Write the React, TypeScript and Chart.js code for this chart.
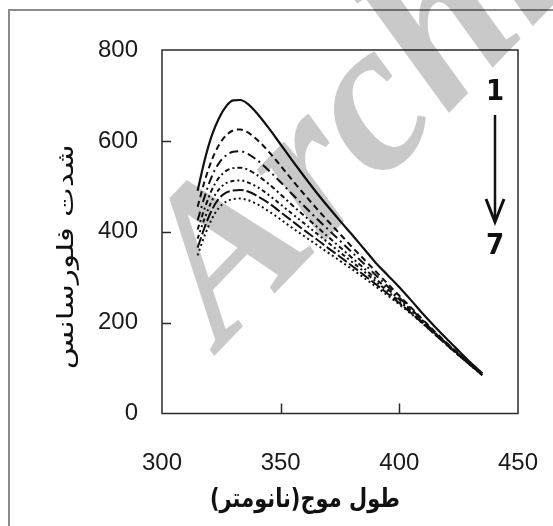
import React, { useEffect, useRef } from "react";
import { Chart, registerables } from "chart.js";

Chart.register(...registerables);

// ---- data ----
const wavelengths = [315, 318, 321, 324, 327, 330, 333, 336, 340, 345, 350, 355, 360, 365, 370, 375, 380, 385, 390, 395, 400, 405, 410, 415, 420, 425, 430, 435];

const curve1 = [490, 558, 612, 650, 676, 689, 690, 682, 661, 628, 592, 556, 521, 487, 455, 424, 394, 363, 332, 305, 278, 249, 219, 191, 164, 138, 112, 88];
const curve2 = [455, 512, 558, 591, 612, 623, 625, 619, 603, 576, 545, 513, 482, 452, 423, 395, 367, 340, 313, 286, 259, 233, 206, 180, 155, 132, 109, 87];
const curve3 = [425, 478, 522, 551, 568, 576, 577, 572, 558, 535, 509, 482, 456, 430, 405, 380, 355, 330, 305, 280, 255, 230, 204, 178, 154, 131, 108, 86];
const curve4 = [405, 452, 492, 519, 534, 540, 541, 537, 525, 505, 482, 458, 435, 412, 389, 366, 343, 320, 297, 274, 251, 227, 202, 177, 153, 130, 107, 85];
const curve5 = [385, 430, 468, 493, 507, 512, 513, 509, 499, 481, 460, 439, 418, 397, 376, 355, 334, 313, 291, 269, 247, 224, 200, 176, 152, 129, 107, 85];
const curve6 = [365, 410, 448, 473, 486, 491, 492, 489, 479, 463, 443, 423, 403, 384, 364, 345, 325, 305, 285, 264, 243, 221, 198, 174, 151, 128, 106, 84];
const curve7 = [348, 392, 428, 453, 466, 472, 473, 470, 461, 445, 427, 408, 390, 372, 354, 336, 318, 299, 280, 260, 240, 219, 197, 174, 151, 128, 106, 84];

const seriesNames = ["1", "2", "3", "4", "5", "6", "7"];
const seriesValues = [curve1, curve2, curve3, curve4, curve5, curve6, curve7];

const xMin = 300;
const xMax = 450;
const xStep = 50;
const yMin = 0;
const yMax = 800;
const yStep = 200;
const xInnerTicks = [350, 400];
const yInnerTicks = [200, 400, 600];

const xTitle = "طول موج(نانومتر)";
const yTitle = "شدت فلورسانس";
const arrowTopLabel = "1";
const arrowBottomLabel = "7";
const watermarkText = "Archive of SID";

// ---- styles ----
const dashStyles: number[][] = [
  [],
  [6, 4],
  [9, 4, 2, 4],
  [5, 3, 2, 3],
  [4, 3, 2, 3, 2, 3],
  [11, 3],
  [2, 3],
];

const decorPlugin = {
  id: "decor",
  beforeDraw(chart: any) {
    const { ctx, width, height } = chart;
    ctx.save();
    ctx.fillStyle = "#ffffff";
    ctx.fillRect(0, 0, width, height);
    ctx.strokeStyle = "#8a8a8a";
    ctx.lineWidth = 2;
    ctx.beginPath();
    ctx.moveTo(9, height);
    ctx.lineTo(9, 10);
    ctx.lineTo(width, 10);
    ctx.stroke();
    ctx.restore();
  },
  afterDatasetsDraw(chart: any) {
    const { ctx, chartArea: a } = chart;
    const xs = chart.scales.x;
    const ys = chart.scales.y;
    ctx.save();

    // plot frame
    ctx.strokeStyle = "#2a2a2a";
    ctx.lineWidth = 1.5;
    ctx.strokeRect(a.left, a.top, a.right - a.left, a.bottom - a.top);

    // inner tick marks
    ctx.beginPath();
    for (const v of xInnerTicks) {
      const px = Math.round(xs.getPixelForValue(v)) + 0.5;
      ctx.moveTo(px, a.bottom);
      ctx.lineTo(px, a.bottom - 10);
    }
    for (const v of yInnerTicks) {
      const py = Math.round(ys.getPixelForValue(v)) + 0.5;
      ctx.moveTo(a.left, py);
      ctx.lineTo(a.left + 9, py);
    }
    ctx.stroke();

    // watermark
    ctx.save();
    ctx.translate(222, 348);
    ctx.rotate((-46 * Math.PI) / 180);
    ctx.font = 'bold italic 215px "Liberation Serif", serif';
    ctx.fillStyle = "rgba(0,0,0,0.21)";
    ctx.textBaseline = "alphabetic";
    ctx.textAlign = "left";
    ctx.fillText(watermarkText, 0, 0);
    ctx.restore();

    // arrow annotation 1 -> 7
    const ax = a.right - 23;
    ctx.fillStyle = "#111";
    ctx.font = 'bold 29px "DejaVu Sans Condensed", "DejaVu Sans", sans-serif';
    ctx.textAlign = "center";
    ctx.textBaseline = "middle";
    ctx.fillText(arrowTopLabel, ax, 92);
    ctx.fillText(arrowBottomLabel, ax, 246);
    ctx.strokeStyle = "#111";
    ctx.lineWidth = 2.5;
    ctx.beginPath();
    ctx.moveTo(ax, 115);
    ctx.lineTo(ax, 221);
    ctx.stroke();
    ctx.lineWidth = 3;
    ctx.lineJoin = "miter";
    ctx.beginPath();
    ctx.moveTo(ax - 9, 199);
    ctx.lineTo(ax, 222);
    ctx.lineTo(ax + 9, 199);
    ctx.stroke();

    // axis titles
    ctx.direction = "rtl";
    ctx.textAlign = "center";
    ctx.textBaseline = "middle";
    ctx.fillStyle = "#111";

    ctx.save();
    ctx.font = 'bold 26px "DejaVu Sans", sans-serif';
    const wx = ctx.measureText(xTitle).width;
    ctx.translate((a.left + a.right) / 2 - 35, 500);
    ctx.scale(190 / wx, 1);
    ctx.fillText(xTitle, 0, 0);
    ctx.restore();

    ctx.save();
    ctx.font = '23px "DejaVu Sans", sans-serif';
    const wy = ctx.measureText(yTitle).width;
    ctx.translate(67, (a.top + a.bottom) / 2 + 25);
    ctx.rotate(-Math.PI / 2);
    ctx.scale(225 / wy, 1);
    ctx.fillText(yTitle, 0, 0);
    ctx.restore();

    ctx.restore();
  },
};

export default function App() {
  const ref = useRef<HTMLCanvasElement>(null);

  useEffect(() => {
    const canvas = ref.current;
    if (!canvas) return;
    const datasets = seriesValues.map((vals, i) => ({
      label: seriesNames[i],
      data: wavelengths.map((w, j) => ({ x: w, y: vals[j] })),
      borderColor: "#111111",
      borderWidth: i === 0 ? 2.2 : 2,
      borderDash: dashStyles[i],
      pointRadius: 0,
      fill: false,
      tension: 0.4,
      cubicInterpolationMode: "monotone" as const,
    }));

    const tickFont = { family: '"Liberation Sans", Arial, sans-serif', size: 24 };

    const chart = new Chart(canvas, {
      type: "line",
      data: { datasets },
      options: {
        responsive: false,
        animation: false,
        devicePixelRatio: 1,
        layout: { padding: { top: 50, right: 35, bottom: 0, left: 0 } },
        plugins: {
          legend: { display: false },
          tooltip: { enabled: false },
          title: { display: false },
        },
        scales: {
          x: {
            type: "linear",
            min: xMin,
            max: xMax,
            grid: { display: false, drawTicks: false },
            border: { display: false },
            ticks: { stepSize: xStep, font: tickFont, color: "#1a1a1a", padding: 35, maxRotation: 0 },
            afterFit: (scale: any) => {
              scale.height = 112.5;
              scale.paddingLeft = 0;
              scale.paddingRight = 0;
            },
          },
          y: {
            type: "linear",
            min: yMin,
            max: yMax,
            grid: { display: false, drawTicks: false },
            border: { display: false },
            ticks: { stepSize: yStep, font: tickFont, color: "#1a1a1a", padding: 24 },
            afterFit: (scale: any) => {
              scale.width = 162;
              scale.paddingTop = 0;
              scale.paddingBottom = 0;
            },
          },
        },
      },
      plugins: [decorPlugin],
    });
    return () => chart.destroy();
  }, []);

  return (
    <div style={{ position: "fixed", left: 0, top: 0, width: 553, height: 526, background: "#fff" }}>
      <canvas ref={ref} width={553} height={526} style={{ display: "block", width: 553, height: 526 }} />
    </div>
  );
}
